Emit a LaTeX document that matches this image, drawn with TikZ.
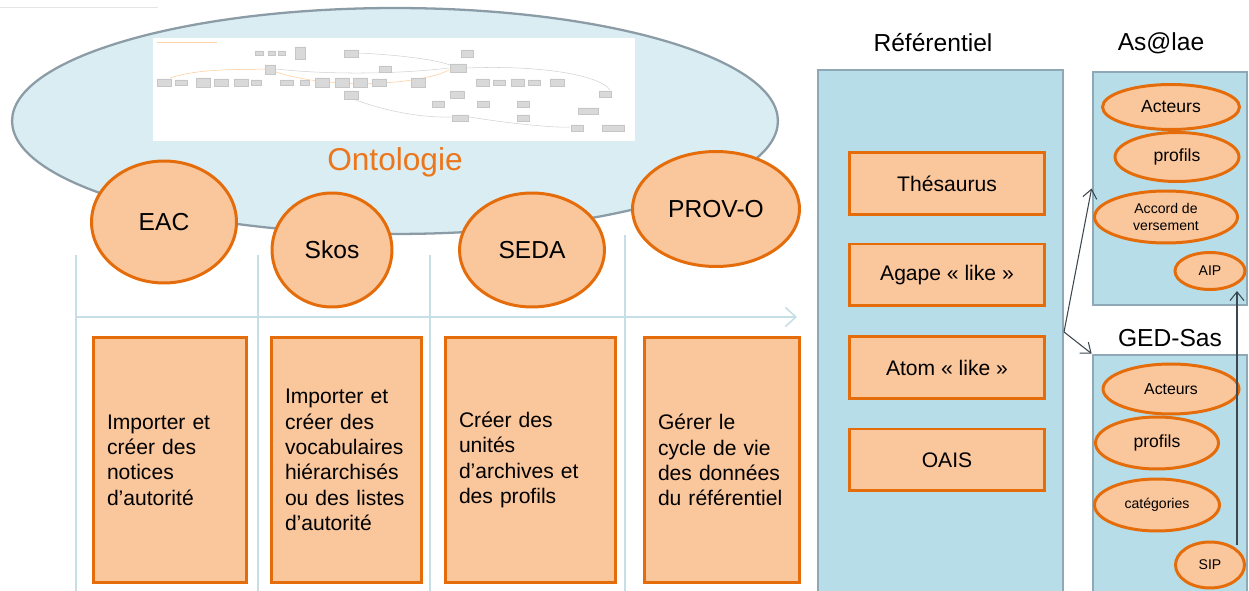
\documentclass[tikz,border=0pt]{standalone}
\usepackage{fontspec}
\setmainfont{Liberation Sans}
\usetikzlibrary{arrows.meta,shapes.geometric}

\definecolor{peche}{RGB}{250,198,156}
\definecolor{orangebord}{RGB}{228,108,10}
\definecolor{ontotexte}{RGB}{236,118,28}
\definecolor{bleuonto}{RGB}{218,237,243}
\definecolor{grisonto}{RGB}{140,156,166}
\definecolor{bleupanneau}{RGB}{183,222,232}
\definecolor{bordpanneau}{RGB}{143,168,181}
\definecolor{guide}{RGB}{198,222,230}
\definecolor{fleche}{RGB}{60,70,78}

\tikzset{
 bulle/.style={ellipse,draw=orangebord,fill=peche,line width=1.7pt,inner sep=0pt},
 tache/.style={rectangle,draw=orangebord,fill=peche,line width=1.7pt,inner xsep=0.28cm,align=left,font=\fontsize{12}{14.4}\selectfont},
 outil/.style={rectangle,draw=orangebord,fill=peche,line width=1.7pt,minimum width=3.92cm,minimum height=1.24cm,font=\fontsize{12}{14}\selectfont},
 panneau/.style={rectangle,draw=bordpanneau,fill=bleupanneau,line width=1.6pt,inner sep=0pt},
 titre/.style={font=\fontsize{14}{16}\selectfont},
 vignette/.style={fill=gray!30,draw=gray!45,line width=0.2pt},
 lien/.style={draw=fleche,line width=0.6pt,-{Straight Barb[length=5pt,width=8pt]}}
}

\begin{document}
\begin{tikzpicture}[x=0.02cm,y=-0.02cm]
 \useasboundingbox (0,0) rectangle (1249,591);
 \clip (0,0) rectangle (1249,591);

 %faint line top left
 \draw[gray!20,line width=0.5pt] (0,7) -- (158,7);

 %ontology cloud
 \node[ellipse,draw=grisonto,fill=bleuonto,line width=1.3pt,minimum width=15.32cm,minimum height=4.52cm] (onto) at (395,121) {};

 %small picture of the ontology graph
 \node[rectangle,fill=white,minimum width=9.64cm,minimum height=2.06cm,inner sep=0pt] (apercu) at (394,89.5) {};
 \draw[orange!35,line width=0.3pt] (157,42) -- (217,42);
 \draw[orange!40,line width=0.3pt] (170,78) .. controls (200,68) and (240,70) .. (265,69);
 \draw[gray!35,line width=0.3pt] (276,69) .. controls (330,75) and (400,74) .. (449,68);
 \draw[orange!40,line width=0.3pt] (276,72) .. controls (330,90) and (420,85) .. (449,70);
 \draw[gray!35,line width=0.3pt] (359,53) .. controls (400,55) and (440,60) .. (452,66);
 \draw[gray!35,line width=0.3pt] (467,68) .. controls (540,65) and (600,75) .. (610,90);
 \draw[gray!35,line width=0.3pt] (351,98) .. controls (380,110) and (420,118) .. (451,117);
 \draw[gray!35,line width=0.3pt] (469,117) .. controls (520,125) and (560,128) .. (570,127);
 \filldraw[vignette] (157,79) rectangle ++(14,7) (175,80) rectangle ++(12,5) (196,78) rectangle ++(14,9)
  (214,79) rectangle ++(14,7) (234,79) rectangle ++(14,7) (251,80) rectangle ++(10,5)
  (280,80) rectangle ++(13,5) (300,80) rectangle ++(9,5) (315,78) rectangle ++(14,9)
  (335,78) rectangle ++(14,9) (353,78) rectangle ++(14,9) (372,79) rectangle ++(14,7)
  (411,78) rectangle ++(14,9) (476,79) rectangle ++(13,7) (493,80) rectangle ++(12,5)
  (511,79) rectangle ++(13,7) (528,80) rectangle ++(12,5) (550,79) rectangle ++(14,7);
 \filldraw[vignette] (255,51) rectangle ++(8,4) (268,51) rectangle ++(7,4) (278,51) rectangle ++(7,4)
  (295,47) rectangle ++(10,12) (344,50) rectangle ++(14,7) (461,50) rectangle ++(12,7)
  (265,65) rectangle ++(10,9) (379,66) rectangle ++(12,6) (450,64) rectangle ++(16,8)
  (344,91) rectangle ++(14,8) (450,91) rectangle ++(14,7) (432,101) rectangle ++(12,6)
  (477,101) rectangle ++(12,6) (517,101) rectangle ++(12,6) (599,91) rectangle ++(12,6)
  (578,108) rectangle ++(20,6) (452,115) rectangle ++(16,6) (517,115) rectangle ++(12,6)
  (571,125) rectangle ++(12,6) (602,125) rectangle ++(22,6);

 \node[font=\fontsize{18}{20}\selectfont,text=ontotexte] (ontotitre) at (395,162) {Ontologie};

 %guide lines and time arrow
 \draw[guide,line width=0.7pt] (76,255) -- (76,600);
 \draw[guide,line width=0.7pt] (258,255) -- (258,600);
 \draw[guide,line width=0.7pt] (430,255) -- (430,600);
 \draw[guide,line width=0.7pt] (625,235) -- (625,600);
 \coordinate (t0) at (76,317);
 \coordinate (t1) at (797,317);
 \draw[guide,line width=0.9pt,-{Straight Barb[length=6pt,width=11pt]}] (t0) -- (t1);

 %vocabularies
 \node[bulle,minimum width=2.9cm,minimum height=2.44cm,font=\fontsize{14}{16}\selectfont] (eac) at (164,222) {EAC};
 \node[bulle,minimum width=2.4cm,minimum height=2.28cm,font=\fontsize{14}{16}\selectfont] (skos) at (332,250) {Skos};
 \node[bulle,minimum width=2.9cm,minimum height=2.28cm,font=\fontsize{14}{16}\selectfont] (seda) at (532,250) {SEDA};
 \node[bulle,minimum width=3.34cm,minimum height=2.3cm,font=\fontsize{14}{16}\selectfont] (provo) at (716,209) {PROV-O};

 %tasks
 \node[tache,text width=2.52cm,minimum height=4.92cm] (tache1) at (170,460)
  {Importer et\\cr\'eer des\\notices\\d'autorit\'e};
 \node[tache,text width=2.46cm,minimum height=4.92cm] (tache2) at (346.5,460)
  {Importer et\\cr\'eer des\\vocabulaires\\hi\'erarchis\'es\\ou des listes\\d'autorit\'e};
 \node[tache,text width=2.86cm,minimum height=4.92cm] (tache3) at (530.5,460)
  {Cr\'eer des\\unit\'es\\d'archives et\\des profils};
 \node[tache,text width=2.56cm,minimum height=4.92cm] (tache4) at (722,460)
  {G\'erer le\\cycle de vie\\des donn\'ees\\du r\'ef\'erentiel};

 %referentiel
 \node[titre] (titreref) at (933,43) {R\'ef\'erentiel};
 \node[panneau,minimum width=4.9cm,minimum height=11cm] (ref) at (940.5,345) {};
 \node[outil] (thes) at (947,183.5) {Th\'esaurus};
 \node[outil] (agape) at (947,275) {Agape « like »};
 \node[outil] (atom) at (947,367.5) {Atom « like »};
 \node[outil] (oais) at (947,460) {OAIS};

 %As@lae
 \node[titre] (titreas) at (1161,43) {As@lae};
 \node[panneau,minimum width=3.08cm,minimum height=4.66cm] (asalae) at (1170,188.5) {};
 \node[bulle,minimum width=2.74cm,minimum height=0.9cm,font=\fontsize{10}{12}\selectfont] (acteurs1) at (1171,107) {Acteurs};
 \node[bulle,minimum width=2.48cm,minimum height=0.98cm,font=\fontsize{10}{12}\selectfont] (profils1) at (1177,157) {profils};
 \node[bulle,minimum width=2.86cm,minimum height=1.04cm,align=center,font=\fontsize{8}{9.5}\selectfont] (accord) at (1166,217) {Accord de\\versement};
 \node[bulle,minimum width=1.4cm,minimum height=0.74cm,font=\fontsize{8}{10}\selectfont] (aip) at (1210,271) {AIP};

 %GED-Sas
 \node[titre] (titreged) at (1170,338) {GED-Sas};
 \node[panneau,minimum width=3.08cm,minimum height=5.3cm] (ged) at (1170,487.5) {};
 \node[bulle,minimum width=2.72cm,minimum height=1cm,font=\fontsize{9}{11}\selectfont] (acteurs2) at (1171,389) {Acteurs};
 \node[bulle,minimum width=2.46cm,minimum height=1.04cm,font=\fontsize{10}{12}\selectfont] (profils2) at (1157,443) {profils};
 \node[bulle,minimum width=2.5cm,minimum height=1.04cm,font=\fontsize{8}{10}\selectfont] (categ) at (1157,505) {cat\'egories};
 \node[bulle,minimum width=1.38cm,minimum height=0.92cm,font=\fontsize{8}{10}\selectfont] (sip) at (1210,565) {SIP};

 %links
 \coordinate (depart) at (1064,332);
 \coordinate (sipH) at (1237,545);
 \draw[lien] (depart) -- (asalae.west);
 \draw[lien] (depart) -- (ged.north west);
 \draw[lien] (sipH) -- (aip.south -| sipH);
\end{tikzpicture}
\end{document}
